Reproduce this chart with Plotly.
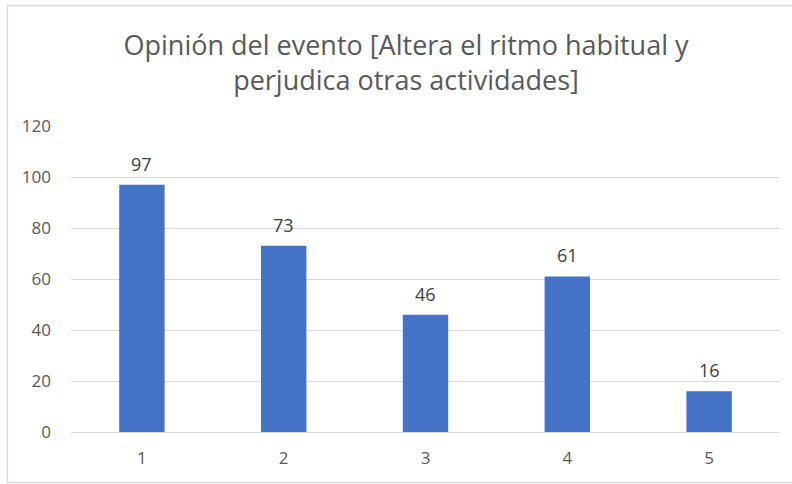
import plotly.graph_objects as go

categories = ["1", "2", "3", "4", "5"]
values = [97, 73, 46, 61, 16]
y_ticks = [0, 20, 40, 60, 80, 100, 120]
title_text = "Opinión del evento [Altera el ritmo habitual y<br>perjudica otras actividades]"

W, H = 792, 484
ml, mr, mt, mb = 71, 12, 126, 52
pw = W - ml - mr
ph = H - mt - mb

fig = go.Figure(go.Bar(
    x=categories, y=values,
    marker=dict(color="#4472C4", line=dict(width=0)),
    hoverinfo="x+y",
))

for i, v in enumerate(values):
    fig.add_annotation(x=i, y=v, text=str(v), showarrow=False, yanchor="middle",
                       yshift=21, font=dict(size=18, color="#404040", family="Open Sans"))


def px_to_paper_x(px):
    return (px - ml) / pw


def px_to_paper_y(py):
    return (H - mb - py) / ph


fig.add_shape(type="rect", xref="paper", yref="paper",
              x0=px_to_paper_x(7.5), x1=px_to_paper_x(796),
              y0=px_to_paper_y(482.5), y1=px_to_paper_y(5.5),
              line=dict(color="#D9D9D9", width=1.3), fillcolor="rgba(0,0,0,0)", layer="below")

fig.update_layout(
    width=W, height=H,
    margin=dict(l=ml, r=mr, t=mt, b=mb),
    paper_bgcolor="white", plot_bgcolor="white",
    bargap=0.68,
    showlegend=False,
    title=dict(text=title_text, x=406 / W, xanchor="center", y=1 - 55 / H, yanchor="middle",
               font=dict(size=27, color="#595959", family="Open Sans")),
    font=dict(family="Open Sans", color="#595959"),
    xaxis=dict(type="category", range=[-0.5, len(categories) - 0.5],
               showgrid=False, showline=True, linecolor="#D9D9D9", linewidth=1.3,
               ticks="", tickfont=dict(size=17, color="#595959"), ticklabelstandoff=10),
    yaxis=dict(range=[0, 120], tickvals=y_ticks, showgrid=True, gridcolor="#D9D9D9",
               gridwidth=1.3, zeroline=False, showline=False, ticks="",
               tickfont=dict(size=17, color="#595959"), ticklabelstandoff=19),
)

fig.write_html("out.html", config={"displayModeBar": False},
               post_script="document.body.style.margin='0';")
